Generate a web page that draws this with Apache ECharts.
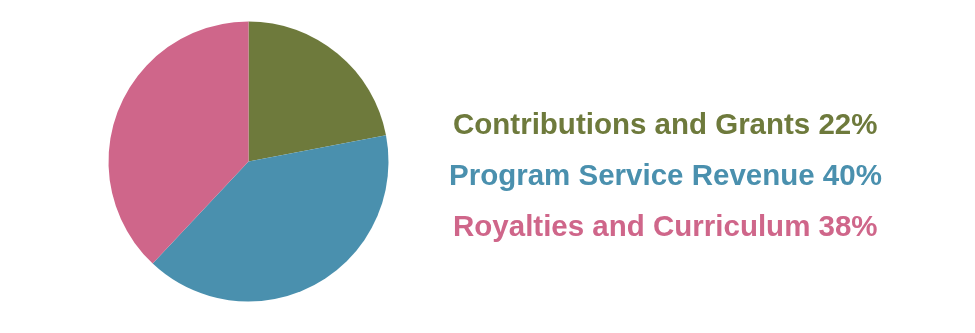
<!DOCTYPE html>
<html>
<head>
<meta charset="utf-8">
<script src="https://cdn.jsdelivr.net/npm/echarts@6/dist/echarts.min.js"></script>
<style>
  html, body { margin: 0; padding: 0; background: #ffffff; }
  #chart { width: 975px; height: 333px; }
</style>
</head>
<body>
<div id="chart"></div>
<script>
// Revenue sources, in percent of total
const categories = ['Contributions and Grants', 'Program Service Revenue', 'Royalties and Curriculum'];
const shares = [22, 40, 38];
const colors = ['#6e7a3c', '#4a90ae', '#cf668a'];

const pieData = categories.map((name, i) => ({
  name: name,
  value: shares[i],
  itemStyle: { color: colors[i] }
}));

const total = shares.reduce((a, b) => a + b, 0);
const fontFamily = 'Liberation Sans, Arial, Helvetica, sans-serif';
const fontSize = 29.5;

function labelText(name) {
  const i = categories.indexOf(name);
  return name + ' ' + Math.round(shares[i] / total * 100) + '%';
}

// Measure each label so every legend row can be centred on the same column
const measureCtx = document.createElement('canvas').getContext('2d');
measureCtx.font = 'bold ' + fontSize + 'px ' + fontFamily;
const columnCenter = 660.5;
const firstRowTop = 109;
const rowStep = 51;

const legends = categories.map((name, i) => ({
  orient: 'horizontal',
  left: Math.round(columnCenter - measureCtx.measureText(labelText(name)).width / 2),
  top: firstRowTop + i * rowStep,
  padding: 0,
  icon: 'none',
  itemWidth: 0,
  itemHeight: 0,
  selectedMode: false,
  data: [{ name: name, textStyle: { color: colors[i] } }],
  formatter: labelText,
  textStyle: {
    fontFamily: fontFamily,
    fontWeight: 'bold',
    fontSize: fontSize,
    lineHeight: 34,
    padding: 0
  }
}));

const chart = echarts.init(document.getElementById('chart'), null, { renderer: 'canvas' });
chart.setOption({
  animation: false,
  backgroundColor: '#ffffff',
  legend: legends,
  series: [{
    type: 'pie',
    center: [248.5, 161.5],
    radius: 140,
    startAngle: 90,
    clockwise: true,
    label: { show: false },
    labelLine: { show: false },
    emphasis: { disabled: true },
    itemStyle: { borderWidth: 0 },
    data: pieData
  }]
});
</script>
</body>
</html>
